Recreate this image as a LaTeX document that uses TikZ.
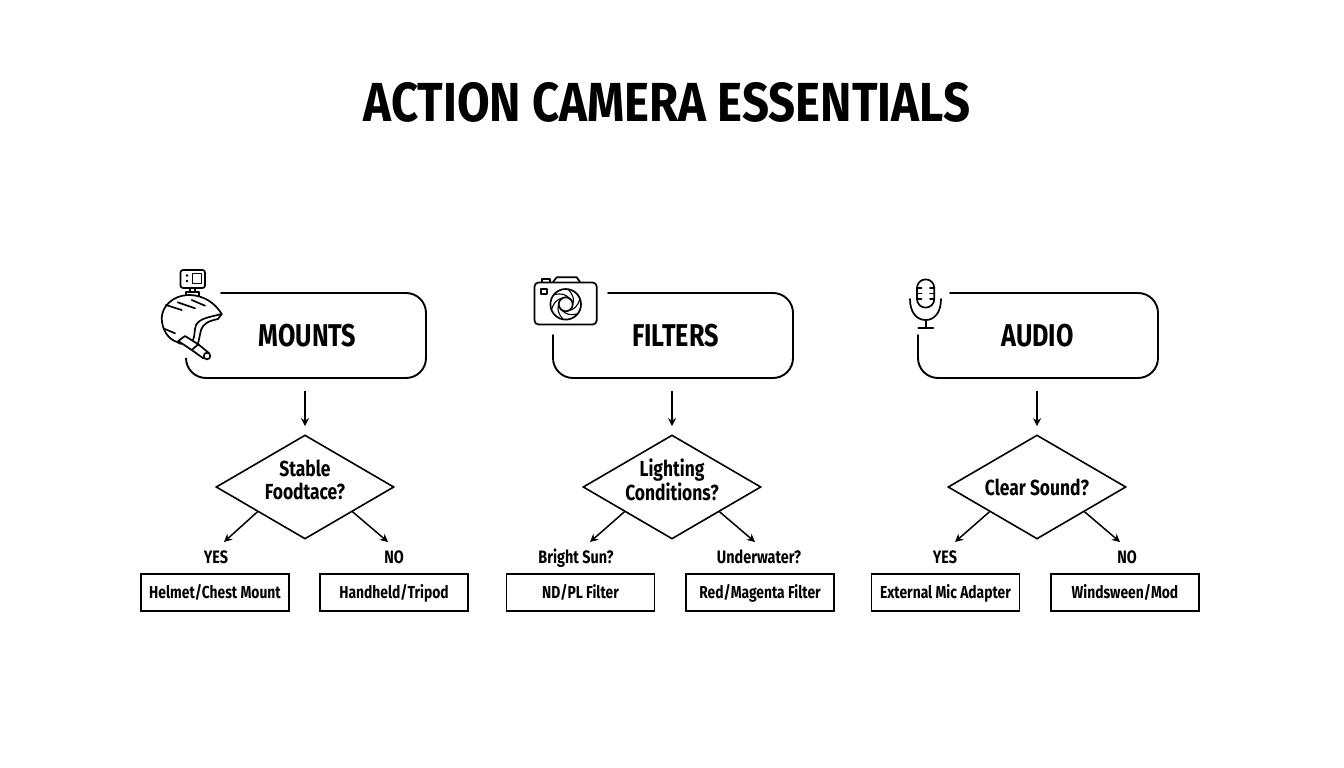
\documentclass[tikz,border=0pt]{standalone}
\usepackage{fontspec}
\setmainfont{Fira Sans}[FakeStretch=0.8]
\newfontfamily\titlefont{Fira Sans}[FakeStretch=0.86]
\usetikzlibrary{shapes.geometric,arrows.meta,calc}
\newcommand{\twolines}[2]{\smash{\raisebox{-1.5pt}{\renewcommand{\arraystretch}{0.92}\begin{tabular}{@{}c@{}}#1\\#2\end{tabular}}}}
\tikzset{
  outline/.style={line width=1.9pt,black,line cap=round},
  ico/.style={line width=1.7pt,black,line cap=round,line join=round},
  head/.style={minimum width=240pt,minimum height=85pt,inner sep=0pt,font=\fontsize{31.5}{33}\selectfont\bfseries},
  decision/.style={diamond,draw=black,line width=1.6pt,aspect=1.71,minimum width=178pt,minimum height=104pt,inner sep=0pt,align=center,font=\fontsize{21.8}{23}\selectfont\bfseries},
  leaf/.style={draw=black,line width=1.7pt,minimum width=148pt,minimum height=37pt,inner sep=0pt,text height=14pt,text depth=2pt,font=\fontsize{17.3}{20}\selectfont\bfseries},
  tag/.style={inner sep=0pt,text height=14.5pt,text depth=1.5pt,font=\fontsize{18}{20}\selectfont\bfseries},
  conn/.style={line width=1.5pt,black,-{Stealth[length=8pt,width=8pt]}},
  down/.style={conn,shorten <=13pt,shorten >=8pt},
}
\begin{document}
\begin{tikzpicture}[x=1pt,y=-1pt]
\useasboundingbox (0,0) rectangle (1344,768);
\node[inner sep=0pt,font=\titlefont\fontsize{55}{60}\selectfont\bfseries] (title) at (667,102) {ACTION CAMERA ESSENTIALS};

% header outlines
\draw[outline] (221,293) -- (406,293) arc[start angle=-90,end angle=0,radius=20] -- (426,358) arc[start angle=0,end angle=90,radius=20] -- (206,378) arc[start angle=90,end angle=180,radius=20] -- (186,360);
\draw[outline] (608,293) -- (773,293) arc[start angle=-90,end angle=0,radius=20] -- (793,358) arc[start angle=0,end angle=90,radius=20] -- (573,378) arc[start angle=90,end angle=180,radius=20] -- (553,335);
\draw[outline] (950,293) -- (1138,293) arc[start angle=-90,end angle=0,radius=20] -- (1158,358) arc[start angle=0,end angle=90,radius=20] -- (938,378) arc[start angle=90,end angle=180,radius=20] -- (918,335);

\node[head] (mounts) at (307.5,335.5) {MOUNTS};
\node[head] (filters) at (675.5,335.5) {FILTERS};
\node[head] (audio) at (1037.5,335.5) {AUDIO};

\node[decision] (d1) at (305,487) {\twolines{Stable}{Foodtace?}};
\node[decision] (d2) at (672,487) {\twolines{Lighting}{Conditions?}};
\node[decision] (d3) at (1037,487) {Clear Sound?};

\node[leaf] (l1) at (215,592.5) {Helmet/Chest Mount};
\node[leaf] (l2) at (394,592.5) {Handheld/Tripod};
\node[leaf] (l3) at (580.5,592.5) {ND/PL Filter};
\node[leaf] (l4) at (760,592.5) {Red/Magenta Filter};
\node[leaf] (l5) at (945.5,592.5) {External Mic Adapter};
\node[leaf] (l6) at (1125,592.5) {Windsween/Mod};

\node[tag] (t1) at (216,557) {YES};
\node[tag] (t2) at (394,557) {NO};
\node[tag] (t3) at (576,557) {Bright Sun?};
\node[tag] (t4) at (759,557) {Underwater?};
\node[tag] (t5) at (945,557) {YES};
\node[tag] (t6) at (1127,557) {NO};

\coordinate (e1) at (224,542);
\coordinate (e2) at (388,542);
\coordinate (e3) at (590,542);
\coordinate (e4) at (755,542);
\coordinate (e5) at (955,542);
\coordinate (e6) at (1120,542);

\draw[down] (mounts.south -| d1) -- (d1);
\draw[down] (filters.south -| d2) -- (d2);
\draw[down] (audio.south -| d3) -- (d3);
\draw[conn] ($(d1.west)!0.47!(d1.south)$) -- (e1);
\draw[conn] ($(d1.east)!0.47!(d1.south)$) -- (e2);
\draw[conn] ($(d2.west)!0.47!(d2.south)$) -- (e3);
\draw[conn] ($(d2.east)!0.47!(d2.south)$) -- (e4);
\draw[conn] ($(d3.west)!0.47!(d3.south)$) -- (e5);
\draw[conn] ($(d3.east)!0.47!(d3.south)$) -- (e6);

% helmet icon
\begin{scope}[ico]
\draw[rounded corners=2.5pt] (180.5,270) rectangle (205,288);
\draw (192.5,273.5) rectangle (201.5,283.5);
\fill (187,275.5) circle (1.3pt) (187,281) circle (1.3pt);
\draw (190,288) -- (190,292) (195,288) -- (195,292);
\draw (186,295) -- (186,292) -- (199,292) -- (199,296);
\draw (221.7,314) .. controls (215,303) and (204,295.5) .. (190,295)
  .. controls (172,295) and (162,307) .. (161.7,318)
  .. controls (162,330) and (168,339) .. (177,342) -- (181,344);
\draw (221.7,314) .. controls (210,317) and (200,318) .. (196,325) .. controls (194,331) and (195,336) .. (193,340);
\draw (221.7,314) -- (218,319) .. controls (208,321) and (203,324) .. (201,330) -- (198,344);
\draw (177.7,302.3) -- (195,308.3) (191.7,300) -- (205,305.7) (166,305) -- (181.7,310);
\draw (165,329) -- (175,333.3);
\draw (178.3,341) -- (185,336) -- (198.3,344.3) -- (191.7,350) -- cycle;
\draw (198.3,344.3) -- (209.3,353.3) (191.7,350) -- (203.3,358.3);
\draw (207,356) circle (3.3pt);
\end{scope}

% camera icon
\begin{scope}[ico]
\draw[rounded corners=4pt] (534.5,282.5) rectangle (596.7,324.5);
\draw (541.7,282) -- (541.7,279.3) -- (550,279.3) -- (550,282);
\draw (553,282) -- (556.7,277.3) -- (576.7,277.3) -- (580,282);
\draw[line width=2pt] (541,288.5) rectangle (547,294);
\draw (565.7,304.3) circle (15.3pt);
\draw (565.7,304.3) circle (7pt);
\foreach \a in {0,60,...,300}{
  \draw[line width=1.1pt] ($(565.7,304.3)+(\a:7pt)$) .. controls ($(565.7,304.3)+(\a+30:10pt)$) and ($(565.7,304.3)+(\a+50:12pt)$) .. ($(565.7,304.3)+(\a+80:15pt)$);
}
\end{scope}

% microphone icon
\begin{scope}[ico]
\draw (917,288) arc[start angle=180,end angle=360,radius=8.65] -- (934.3,299) arc[start angle=0,end angle=180,radius=8.65] -- cycle;
\draw (917,288) -- (921.5,288) (917,293.5) -- (921.5,293.5) (917,299) -- (921.5,299);
\draw (934.3,288) -- (930,288) (934.3,293.5) -- (930,293.5) (934.3,299) -- (930,299);
\draw (910,299) .. controls (910,313) and (917,320) .. (925.7,320) .. controls (934,320) and (941,313) .. (941,299);
\draw (925.7,320) -- (925.7,328);
\draw (918.3,328) -- (933.3,328);
\end{scope}
\end{tikzpicture}
\end{document}
